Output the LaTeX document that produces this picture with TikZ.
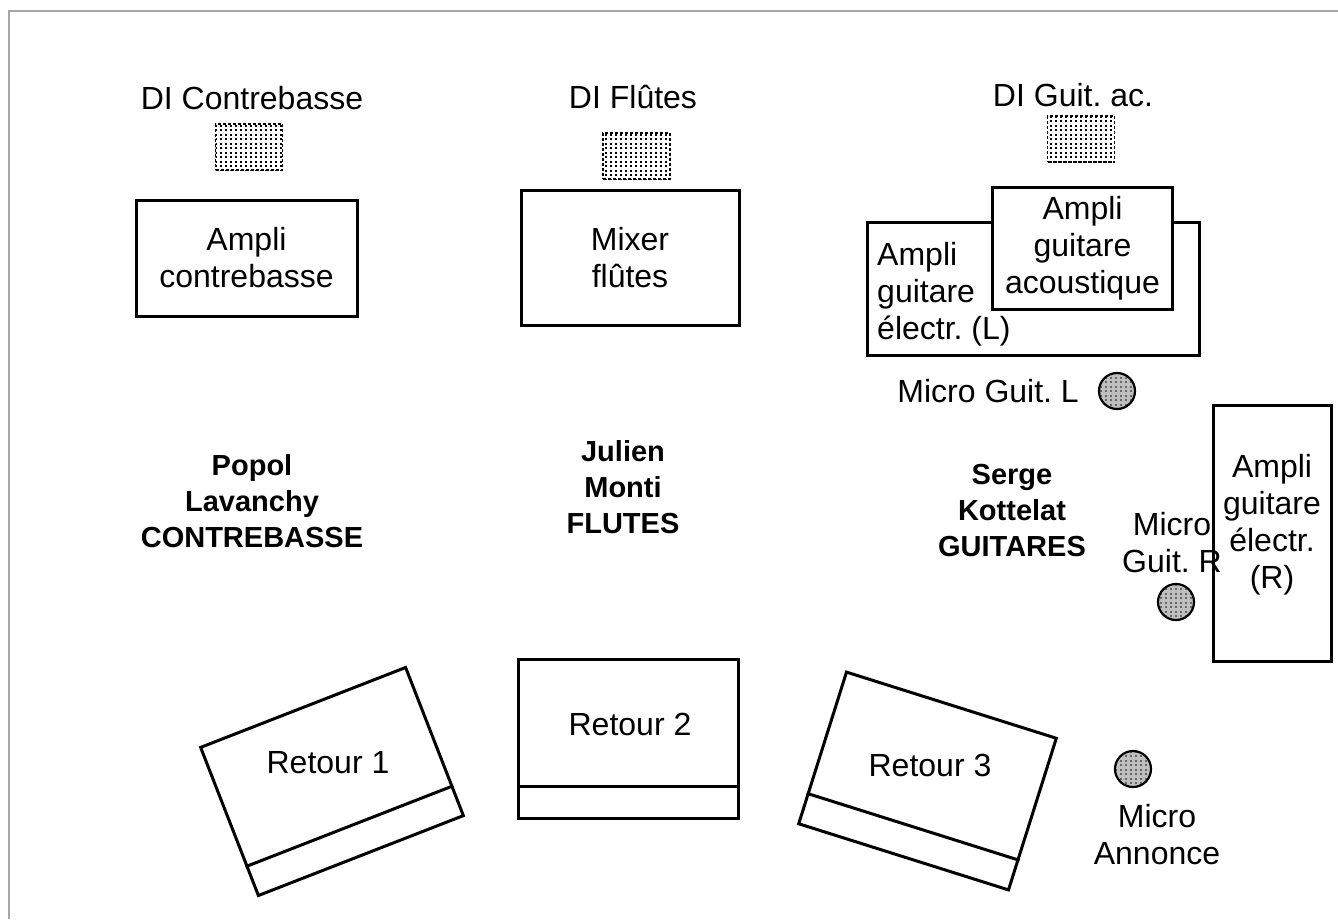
\documentclass[tikz,border=0pt]{standalone}
\usepackage{fontspec}
\setmainfont{Liberation Sans}
\usetikzlibrary{patterns,calc}
\frenchspacing

\pgfdeclarepatternformonly{didots}{\pgfqpoint{-1pt}{-1pt}}{\pgfqpoint{6pt}{6pt}}{\pgfqpoint{5pt}{4.5pt}}{%
  \pgfpathrectangle{\pgfqpoint{0pt}{0pt}}{\pgfqpoint{2pt}{2pt}}\pgfusepath{fill}}

\begin{document}
\begin{tikzpicture}[x=1pt, y=-1pt,
  txt/.style={font=\fontsize{32}{37}\selectfont, align=center, inner sep=0pt},
  who/.style={font=\fontsize{29}{36}\selectfont\bfseries, align=center, inner sep=0pt},
  amp/.style={draw, line width=3pt, fill=white, txt},
  dibox/.style={draw, densely dashed, line width=1.6pt, pattern=didots, inner sep=0pt, minimum width=67, minimum height=46},
  mic/.style={circle, draw, line width=2.2pt, preaction={fill=black!25}, pattern=didots, pattern color=black!60, inner sep=0pt, minimum size=36},
  retour/.style={draw, line width=3pt, inner sep=0pt, minimum width=220, minimum height=159}]
\useasboundingbox (0,0) rectangle (1338,919);
\draw[color=black!35, line width=2pt] (9,919) -- (9,11) -- (1338,11);

\node[txt] (dicbl) at (252,98) {DI Contrebasse};
\node[dibox] (dicb) at (249,147) {};
\node[txt] (diflutel) at (633,97) {DI Flûtes};
\node[dibox] (diflute) at (636.5,156) {};
\node[txt] (digacl) at (1073,95) {DI Guit. ac.};
\node[dibox] (digac) at (1081,139) {};

\node[amp, minimum width=221, minimum height=116] (acb) at (246.5,258) {Ampli\\contrebasse};
\node[amp, minimum width=218, minimum height=135] (mix) at (630,257.5) {Mixer\\flûtes};
\node[amp, minimum width=332, minimum height=133] (agl) at (1033,288.5) {};
\node[txt, align=left, anchor=west] (agllabel) at (877,294) {Ampli\\guitare\\électr. (L)};
\node[amp, minimum width=180, minimum height=122] (aga) at (1082.5,248) {Ampli\\guitare\\acoustique};
\node[amp, minimum width=118, minimum height=256] (agr) at (1272.5,533) {};
\node[txt] (agrlabel) at (1272,524.5) {Ampli\\guitare\\électr.\\(R)};

\node[txt, anchor=east] (mgll) at (1079,391) {Micro Guit. L};
\node[mic] (mgl) at (1117,391) {};
\node[txt] (mgrl) at (1172,543) {Micro\\Guit. R};
\node[mic] (mgr) at (1176,602) {};
\node[mic] (mann) at (1133,769) {};
\node[txt] (mannl) at (1157,834.5) {Micro\\Annonce};

\node[who] (popol) at (252,501) {Popol\\Lavanchy\\CONTREBASSE};
\node[who] (julien) at (623,487) {Julien\\Monti\\FLUTES};
\node[who] (serge) at (1012,511) {Serge\\Kottelat\\GUITARES};

\node[retour, rotate=21.3] (ret1) at (332,781.5) {};
\draw[line width=3pt] ($(ret1.south west)!33pt!(ret1.north west)$) -- ($(ret1.south east)!33pt!(ret1.north east)$);
\node[txt] (ret1l) at (328,763) {Retour 1};
\node[retour] (ret2) at (628,738.5) {};
\draw[line width=3pt] ($(ret2.south west)!33pt!(ret2.north west)$) -- ($(ret2.south east)!33pt!(ret2.north east)$);
\node[txt] (ret2l) at (630,724) {Retour 2};
\node[retour, rotate=-17.5] (ret3) at (927.5,781) {};
\draw[line width=3pt] ($(ret3.south west)!33pt!(ret3.north west)$) -- ($(ret3.south east)!33pt!(ret3.north east)$);
\node[txt] (ret3l) at (930,765) {Retour 3};
\end{tikzpicture}
\end{document}
